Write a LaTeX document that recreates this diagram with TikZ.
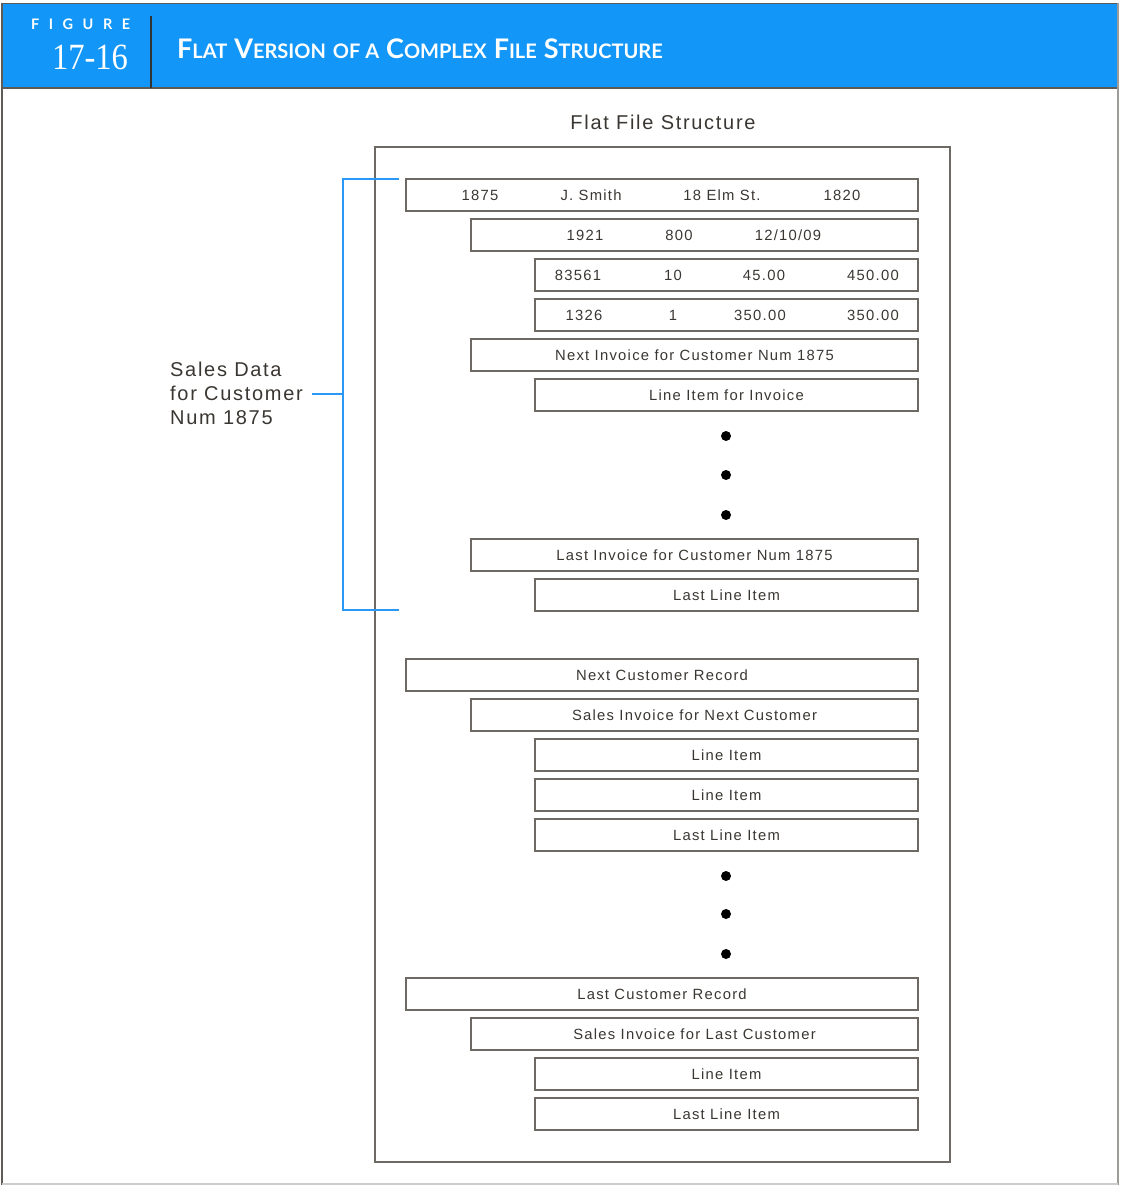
\documentclass[tikz,border=0pt]{standalone}
\usepackage{fontspec}
\setmainfont[LetterSpace=8.5]{Liberation Sans}
\newfontfamily\numfont{Liberation Serif}
\newfontfamily\headfont{Lato}
\definecolor{hdrblue}{HTML}{1296F8}
\definecolor{brk}{HTML}{2A98F6}
\definecolor{linegray}{HTML}{6E6963}
\definecolor{ink}{HTML}{3A3632}
\definecolor{framegray}{HTML}{5E5A55}
% fake small caps for the heading
\newcommand{\hsc}[2]{{\fontsize{27}{28}\selectfont #1}{\fontsize{20}{20}\selectfont #2}}
\newcommand{\hsp}{\hspace{7pt}}
\begin{document}
\begin{tikzpicture}[x=1pt,y=-1pt,
  rec/.style={draw=linegray, line width=1.4pt, minimum height=32pt, inner sep=0pt,
    text height=10.5pt, text depth=0pt,
    font=\fontsize{14.8}{16}\selectfont, text=ink},
  lvA/.style={rec, minimum width=512pt},
  lvB/.style={rec, minimum width=447pt},
  lvC/.style={rec, minimum width=383pt},
  fld/.style={font=\fontsize{14.8}{16}\selectfont, text=ink, inner sep=0pt,
    text height=10.5pt, text depth=0pt},
  dot/.style={circle, fill=black, inner sep=0pt, minimum size=10pt},
  bracket/.style={draw=brk, line width=2.5pt}]
\useasboundingbox (0,0) rectangle (1122,1185);

% page frame and heading band
\fill[hdrblue] (2,4) rectangle (1118,88);
\draw[framegray, line width=1pt] (2,3.5) -- (1118,3.5);
\draw[framegray, line width=1.5pt] (2,88) -- (1118,88);
\draw[framegray, line width=1.6pt] (2,3) -- (2,1185);
\draw[framegray!60, line width=1.6pt] (1118,3) -- (1118,1185);
\draw[gray!40, line width=1.2pt] (2,1184) -- (1118,1184);
\draw[black!80, line width=2.4pt] (151,16) -- (151,88);

\node[text=white, inner sep=0pt, anchor=west, font=\headfont\bfseries\fontsize{14.5}{15}\selectfont] (figword) at (31,24)
  {F\hspace{9.5pt}I\hspace{9.5pt}G\hspace{9.5pt}U\hspace{9.5pt}R\hspace{9.5pt}E};
\node[text=white, inner sep=0pt, font=\numfont\fontsize{37}{40}\selectfont] (fignum) at (90,57)
  {\scalebox{0.88}[1]{17-16}};
\node[text=white, inner sep=0pt, anchor=west, font=\headfont\bfseries] (title) at (177,49)
  {\hsc{F}{LAT}\hsp\hsc{V}{ERSION}\hsp\hsc{}{OF A}\hsp\hsc{C}{OMPLEX}\hsp\hsc{F}{ILE}\hsp\hsc{S}{TRUCTURE}};

% flat file
\node[text=ink, inner sep=0pt, font=\fontsize{20}{22}\selectfont] (flathead) at (663,122) {Flat File Structure};
\draw[linegray, line width=1.4pt] (375,147) rectangle (950,1162);

% first customer
\node[lvA] (cust) at (662,195) {};
\node[fld] (c1) at (480,195) {1875};
\node[fld] (c2) at (591,195) {J. Smith};
\node[fld] (c3) at (722,195) {18 Elm St.};
\node[fld] (c4) at (842,195) {1820};

\node[lvB] (inv) at (694.5,235) {};
\node[fld] (i1) at (585,235) {1921};
\node[fld] (i2) at (679,235) {800};
\node[fld] (i3) at (788,235) {12/10/09};

\node[lvC] (li1) at (726.5,275) {};
\node[fld] (a1) at (578,275) {83561};
\node[fld] (a2) at (673,275) {10};
\node[fld] (a3) at (764,275) {45.00};
\node[fld] (a4) at (873,275) {450.00};

\node[lvC] (li2) at (726.5,315) {};
\node[fld] (b1) at (584,315) {1326};
\node[fld] (b2) at (673,315) {1};
\node[fld] (b3) at (760,315) {350.00};
\node[fld] (b4) at (873,315) {350.00};

\node[lvB] (nextinv) at (694.5,355) {Next Invoice for Customer Num 1875};
\node[lvC] (invli) at (726.5,395) {Line Item for Invoice};
\node[dot] (d1) at (726,436) {};
\node[dot] (d2) at (726,475) {};
\node[dot] (d3) at (726,515) {};
\node[lvB] (lastinv) at (694.5,555) {Last Invoice for Customer Num 1875};
\node[lvC] (lastli) at (726.5,595) {Last Line Item};

% next customer
\node[lvA] (nextcust) at (662,675) {Next Customer Record};
\node[lvB] (nextsale) at (694.5,715) {Sales Invoice for Next Customer};
\node[lvC] (nli1) at (726.5,755) {Line Item};
\node[lvC] (nli2) at (726.5,795) {Line Item};
\node[lvC] (nli3) at (726.5,835) {Last Line Item};
\node[dot] (d4) at (726,876) {};
\node[dot] (d5) at (726,914) {};
\node[dot] (d6) at (726,954) {};

% last customer
\node[lvA] (lastcust) at (662,994) {Last Customer Record};
\node[lvB] (lastsale) at (694.5,1034) {Sales Invoice for Last Customer};
\node[lvC] (lli1) at (726.5,1074) {Line Item};
\node[lvC] (lli2) at (726.5,1114) {Last Line Item};

% bracket around the first customer's data
\coordinate (btop) at (399,179);
\coordinate (bbot) at (399,610);
\coordinate (bmid) at (343,394);
\draw[bracket] (btop) -| (bmid) |- (bbot);
\node[text=ink, inner sep=0pt, anchor=west, align=left, font=\fontsize{20}{24}\selectfont] (salesdata) at (170,393)
  {Sales Data\\for Customer\\Num 1875};
\draw[bracket] (312,394) -- (bmid);
\end{tikzpicture}
\end{document}
